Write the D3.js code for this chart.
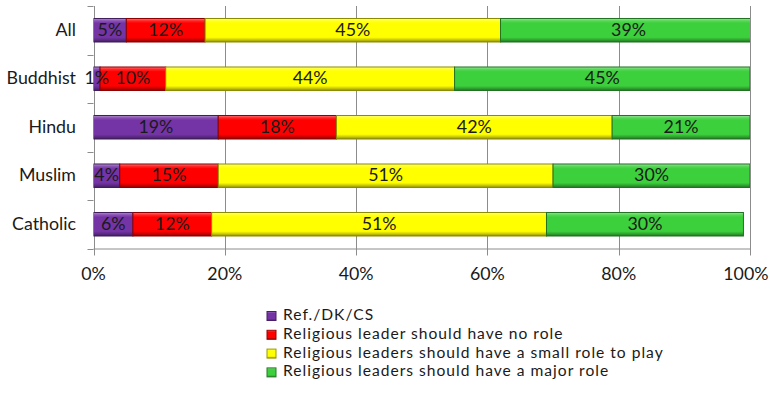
<!DOCTYPE html>
<html>
<head>
<meta charset="utf-8">
<script src="https://cdn.jsdelivr.net/npm/d3@7"></script>
<style>
  html, body { margin: 0; padding: 0; background: #fff; }
  svg { display: block; font-family: Lato, "Open Sans", sans-serif; }
</style>
</head>
<body>
<svg id="chart" width="770" height="393"></svg>
<script>
// Survey groups, top to bottom
const categories = ["All", "Buddhist", "Hindu", "Muslim", "Catholic"];

// Answer options (stack order, left to right)
const seriesNames = [
  "Ref./DK/CS",
  "Religious leader should have no role",
  "Religious leaders should have a small role to play",
  "Religious leaders should have a major role"
];

// Percentages per group, one array per answer option
const refDkCs   = [5, 1, 19, 4, 6];
const noRole    = [12, 10, 18, 15, 12];
const smallRole = [45, 44, 42, 51, 51];
const majorRole = [39, 45, 21, 30, 30];

const xTicks = [0, 20, 40, 60, 80, 100];

const colors = ["#7434a6", "#ff0000", "#ffff00", "#3cd03c"];

const svg = d3.select("#chart");
const W = 770;
const x0 = 93.5, x1 = 750, yTop = 6, yBot = 248.5;
const fontSize = 17.8;

const x = d3.scaleLinear().domain([0, 100]).range([x0, x1]);
const y = d3.scaleBand().domain(categories).range([yTop, yBot])
  .paddingInner(0.515).paddingOuter(0.2575);

const rows = categories.map((c, i) => ({
  cat: c,
  vals: [refDkCs[i], noRole[i], smallRole[i], majorRole[i]]
}));
const table = rows.map(r => {
  const o = { cat: r.cat };
  seriesNames.forEach((s, j) => o[s] = r.vals[j]);
  return o;
});
const stacked = d3.stack().keys(seriesNames)(table);

// Bevel-style gradients for each fill
const defs = svg.append("defs");
function mix(c, t, amt) {
  return d3.interpolateRgb(c, t)(amt);
}
colors.forEach((c, i) => {
  const g = defs.append("linearGradient").attr("id", "grad" + i)
    .attr("x1", 0).attr("y1", 0).attr("x2", 0).attr("y2", 1);
  g.append("stop").attr("offset", 0).attr("stop-color", mix(c, "#fff", 0.45));
  g.append("stop").attr("offset", 0.1).attr("stop-color", mix(c, "#fff", 0.15));
  g.append("stop").attr("offset", 0.2).attr("stop-color", c);
  g.append("stop").attr("offset", 0.8).attr("stop-color", c);
  g.append("stop").attr("offset", 0.9).attr("stop-color", mix(c, "#000", 0.2));
  g.append("stop").attr("offset", 1).attr("stop-color", mix(c, "#000", 0.45));
});
defs.append("clipPath").attr("id", "plotClip")
  .append("rect").attr("x", x0).attr("y", 0).attr("width", x1 - x0).attr("height", 300);

// Gridlines with tick extensions below the axis
const gridColor = "#8c8c8c";
svg.append("g").selectAll("line").data(xTicks).join("line")
  .attr("x1", d => Math.round(x(d)) + 0.5).attr("x2", d => Math.round(x(d)) + 0.5)
  .attr("y1", yTop).attr("y2", yBot + 7)
  .attr("stroke", gridColor).attr("stroke-width", 1);

// Horizontal axis line
svg.append("line").attr("x1", x0).attr("x2", x1 + 0.5)
  .attr("y1", yBot + 0.5).attr("y2", yBot + 0.5)
  .attr("stroke", gridColor);

// Category tick marks on the left axis
const bounds = d3.range(categories.length + 1).map(i => yTop + i * y.step());
svg.append("g").selectAll("line").data(bounds).join("line")
  .attr("x1", x0 - 6).attr("x2", x0)
  .attr("y1", d => Math.round(d) + 0.5).attr("y2", d => Math.round(d) + 0.5)
  .attr("stroke", gridColor);

// Stacked bars
const barG = svg.append("g").attr("clip-path", "url(#plotClip)");
stacked.forEach((layer, i) => {
  barG.append("g").selectAll("rect").data(layer).join("rect")
    .attr("x", d => x(d[0]))
    .attr("y", d => y(d.data.cat))
    .attr("width", d => x(d[1]) - x(d[0]))
    .attr("height", y.bandwidth())
    .attr("fill", "url(#grad" + i + ")")
    .attr("stroke", mix(colors[i], "#000", 0.45))
    .attr("stroke-width", 1);
});

// Value labels
stacked.forEach((layer, i) => {
  svg.append("g").selectAll("text").data(layer).join("text")
    .attr("x", d => x((d[0] + d[1]) / 2))
    .attr("y", d => y(d.data.cat) + y.bandwidth() / 2 + 1)
    .attr("text-anchor", "middle")
    .attr("dominant-baseline", "middle")
    .attr("font-size", fontSize)
    .attr("fill", "#1a1a1a")
    .text(d => (d[1] - d[0]) + "%");
});

// Category labels
svg.append("g").selectAll("text").data(categories).join("text")
  .attr("x", 76)
  .attr("y", d => y(d) + y.bandwidth() / 2 + 1)
  .attr("text-anchor", "end")
  .attr("dominant-baseline", "middle")
  .attr("font-size", fontSize)
  .attr("fill", "#1a1a1a")
  .text(d => d);

// X tick labels (kept inside the canvas at the right edge)
svg.append("g").selectAll("text").data(xTicks).join("text")
  .attr("y", 280)
  .attr("text-anchor", "middle")
  .attr("font-size", fontSize)
  .attr("fill", "#1a1a1a")
  .text(d => d + "%")
  .attr("x", function (d) {
    const half = this.getComputedTextLength() / 2;
    return Math.min(x(d), W - 1.5 - half);
  });

// Legend
const legendFont = 15.6;
const legendGap = 18.8;
const leg = svg.append("g").attr("transform", "translate(267,316)");
seriesNames.forEach((s, i) => {
  const g = leg.append("g").attr("transform", `translate(0,${i * legendGap})`);
  g.append("rect").attr("x", 0).attr("y", -4.5).attr("width", 9).attr("height", 9)
    .attr("fill", "url(#grad" + i + ")")
    .attr("stroke", mix(colors[i], "#000", 0.4));
  g.append("text").attr("x", 16).attr("y", 0)
    .attr("dominant-baseline", "middle")
    .attr("font-size", legendFont)
    .attr("letter-spacing", 1.0)
    .attr("fill", "#1a1a1a")
    .text(s);
});
</script>
</body>
</html>
